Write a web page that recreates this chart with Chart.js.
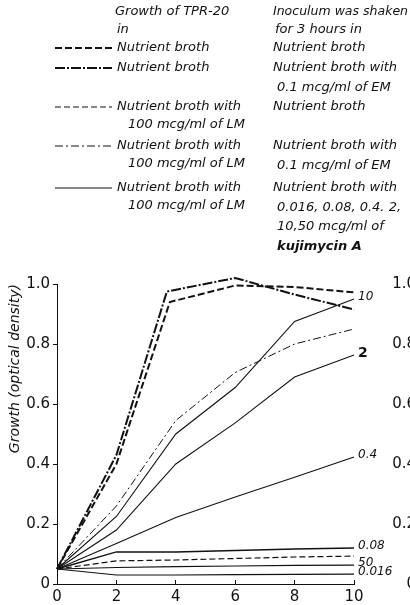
<!DOCTYPE html>
<html lang="en">
<head>
<meta charset="UTF-8">
<title>Growth of TPR-20</title>
<script src="https://cdn.jsdelivr.net/npm/chart.js"></script>
<style>
  html, body { margin: 0; padding: 0; background: #fff; overflow: hidden; }
  #wrap { width: 410px; height: 605px; overflow: hidden; }
  canvas { display: block; }
</style>
</head>
<body>
<div id="wrap"><canvas id="growthChart" width="416" height="605"></canvas></div>
<script>
// hours of incubation
const hours = [0, 2, 4, 6, 8, 10];
const hoursBroth = [0, 2, 3.8, 6, 8, 10];   // heavy curves turn a bit before 4 h
const hoursBrothEm = [0, 2, 3.7, 6, 8, 10];

// growth (optical density)
const brothBroth = [0.05, 0.40, 0.94, 0.995, 0.99, 0.972];
const brothEm = [0.05, 0.43, 0.975, 1.02, 0.965, 0.915];
const lmBroth = [0.05, 0.077, 0.08, 0.085, 0.09, 0.093];
const lmEm = [0.05, 0.26, 0.545, 0.705, 0.80, 0.85];
const kuji10 = [0.05, 0.225, 0.50, 0.655, 0.875, 0.95];
const kuji2 = [0.05, 0.18, 0.40, 0.537, 0.69, 0.763];
const kuji04 = [0.05, 0.135, 0.222, 0.29, 0.356, 0.423];
const kuji008 = [0.05, 0.107, 0.107, 0.112, 0.117, 0.12];
const kuji50 = [0.05, 0.055, 0.058, 0.06, 0.062, 0.063];
const kuji0016 = [0.05, 0.03, 0.03, 0.031, 0.032, 0.033];

const xTickLabels = ['0', '2', '4', '6', '8', '10'];
const yTickLabels = ['0', '0.2', '0.4', '0.6', '0.8', '1.0'];
const endLabels = ['10', '2', '0.4', '0.08', '50', '0.016'];

const headGrowth = ['Growth of TPR-20', 'in'];
const headShaken = ['Inoculum was shaken', 'for 3 hours in'];
const grownIn = [
  ['Nutrient broth'],
  ['Nutrient broth'],
  ['Nutrient broth with', '100 mcg/ml of LM'],
  ['Nutrient broth with', '100 mcg/ml of LM'],
  ['Nutrient broth with', '100 mcg/ml of LM']
];
const shakenIn = [
  ['Nutrient broth'],
  ['Nutrient broth with', '0.1 mcg/ml of EM'],
  ['Nutrient broth'],
  ['Nutrient broth with', '0.1 mcg/ml of EM'],
  ['Nutrient broth with', '0.016, 0.08, 0.4. 2,', '10,50 mcg/ml of', 'kujimycin A']
];

const pts = (xs, ys) => xs.map((x, i) => ({ x: x, y: ys[i] }));
const ink = '#111';

function line(data, width, dash) {
  return {
    data: data, borderColor: ink, borderWidth: width, borderDash: dash || [],
    pointRadius: 0, tension: 0, fill: false, clip: false
  };
}

const datasets = [
  line(pts(hoursBroth, brothBroth), 2, [7, 3]),
  line(pts(hoursBrothEm, brothEm), 2, [10, 2, 2, 2]),
  line(pts(hours, lmBroth), 1.2, [6, 3]),
  line(pts(hours, lmEm), 1, [8, 3, 2, 3]),
  line(pts(hours, kuji10), 1.1),
  line(pts(hours, kuji2), 1.1),
  line(pts(hours, kuji04), 1.1),
  line(pts(hours, kuji008), 1.5),
  line(pts(hours, kuji50), 1.2),
  line(pts(hours, kuji0016), 1.2)
];

const legendFont = "italic 13px 'DejaVu Sans'";

const keyPlugin = {
  id: 'key',
  afterDraw(chart) {
    const ctx = chart.ctx;
    ctx.save();
    ctx.fillStyle = ink;
    ctx.strokeStyle = ink;
    ctx.textBaseline = 'middle';
    ctx.font = legendFont;
    ctx.fillText(headGrowth[0], 115, 12, 123);
    ctx.fillText(headGrowth[1], 117, 30);
    ctx.fillText(headShaken[0], 273, 12, 135);
    ctx.fillText(headShaken[1], 275, 30);

    const rowY = [48, 68, 107, 146, 188];
    const sampleSets = [0, 1, 2, 3, 4];
    rowY.forEach((y, r) => {
      const ds = chart.data.datasets[sampleSets[r]];
      ctx.lineWidth = ds.borderWidth;
      ctx.setLineDash(ds.borderDash);
      ctx.beginPath();
      ctx.moveTo(55, y);
      ctx.lineTo(112, y);
      ctx.stroke();
      ctx.setLineDash([]);
      grownIn[r].forEach((t, k) => {
        ctx.font = legendFont;
        ctx.fillText(t, k ? 128 : 117, y + k * 18);
      });
      shakenIn[r].forEach((t, k) => {
        ctx.font = t === 'kujimycin A' ? "italic bold 13px 'DejaVu Sans'" : legendFont;
        ctx.fillText(t, k ? 277 : 273, y + k * 19.5, 135);
      });
    });

    // dose labels at the right end of the kujimycin curves
    endLabels.forEach((t, i) => {
      const meta = chart.getDatasetMeta(4 + i);
      const p = meta.data[meta.data.length - 1];
      ctx.font = t === '2' ? "bold 14px 'DejaVu Sans'" : "italic 12px 'DejaVu Sans'";
      ctx.fillText(t, p.x + 4, p.y - 2);
    });
    ctx.restore();
  }
};

new Chart(document.getElementById('growthChart'), {
  type: 'line',
  data: { datasets: datasets },
  options: {
    responsive: false,
    animation: false,
    layout: { padding: { top: 284, left: 0, right: 0, bottom: 0 } },
    plugins: { legend: { display: false }, tooltip: { enabled: false } },
    scales: {
      x: {
        type: 'linear', min: 0, max: 10,
        border: { display: true, color: ink, width: 1 },
        grid: { drawOnChartArea: false, drawTicks: true, tickLength: -4, color: ink },
        ticks: {
          stepSize: 2, padding: 8, color: ink,
          font: { family: 'DejaVu Sans', size: 15 },
          callback: (v, i) => xTickLabels[i]
        },
        afterFit: s => { s.height = 21; }
      },
      y: {
        min: 0, max: 1,
        border: { display: true, color: ink, width: 1 },
        grid: { drawOnChartArea: false, tickLength: 4, color: ink },
        ticks: {
          stepSize: 0.2, padding: 3, color: ink,
          font: { family: 'DejaVu Sans', size: 15 },
          callback: (v, i) => yTickLabels[i]
        },
        title: {
          display: true, text: 'Growth (optical density)', align: 'end', color: ink,
          font: { family: 'DejaVu Sans', size: 14, style: 'italic' },
          padding: { top: 7, bottom: 0 }
        },
        afterFit: s => { s.width = 57; }
      },
      y2: {
        position: 'right', min: 0, max: 1,
        border: { display: false },
        grid: { display: false },
        ticks: {
          stepSize: 0.2, color: ink, crossAlign: 'far',
          font: { family: 'DejaVu Sans', size: 15 },
          callback: (v, i) => yTickLabels[i]
        },
        afterFit: s => { s.width = 62; }
      }
    }
  },
  plugins: [keyPlugin]
});
</script>
</body>
</html>
